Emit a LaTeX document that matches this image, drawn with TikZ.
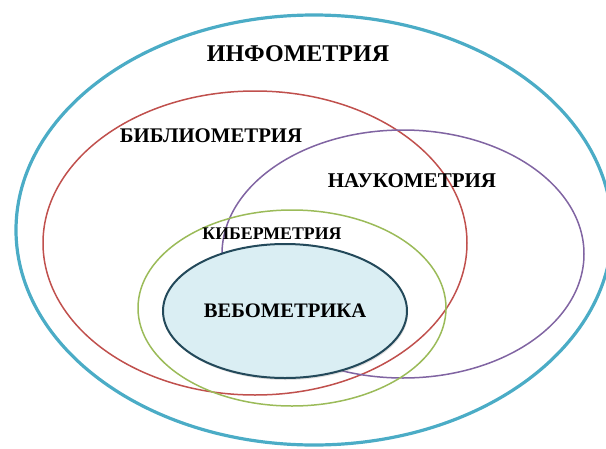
\documentclass[tikz,border=0pt]{standalone}
\usepackage{fontspec}
\setmainfont{Liberation Serif}
\usetikzlibrary{shapes.geometric,shadows}

\definecolor{infoblue}{HTML}{4BACC6}
\definecolor{biblred}{HTML}{C0504D}
\definecolor{scipurple}{HTML}{8064A2}
\definecolor{cybgreen}{HTML}{9BBB59}
\definecolor{webfill}{HTML}{DAEEF3}
\definecolor{webline}{HTML}{23495A}

\tikzset{
  field/.style={ellipse, inner sep=0pt, outer sep=0pt, line width=1.5pt},
  label/.style={font=\bfseries, inner sep=0pt, anchor=base, text=black},
}

\begin{document}
\begin{tikzpicture}[x=1pt, y=-1pt]
  \useasboundingbox (0,0) rectangle (606,448);
  \clip (0,0) rectangle (606,448);

  % outer field
  \node[field, draw=infoblue, line width=3.2pt,
        minimum width=596pt, minimum height=430pt] (info) at (314,230) {};
  % overlapping fields
  \node[field, draw=biblred,
        minimum width=424pt, minimum height=304pt] (bibl) at (255,243) {};
  \node[field, draw=scipurple,
        minimum width=362pt, minimum height=248pt] (sci) at (403,254) {};
  \node[field, draw=cybgreen,
        minimum width=308pt, minimum height=196pt] (cyb) at (292,308) {};
  % innermost field, filled
  \node[field, draw=webline, fill=webfill, line width=2pt,
        drop shadow={opacity=0.25, shadow xshift=1pt, shadow yshift=-2pt},
        minimum width=244pt, minimum height=134pt] (web) at (285,311) {};

  % names of the fields
  \node[label, font=\bfseries\fontsize{24}{24}\selectfont] (tinfo) at (298,61) {ИНФОМЕТРИЯ};
  \node[label, font=\bfseries\fontsize{20.8}{20.8}\selectfont] (tbibl) at (211,142) {БИБЛИОМЕТРИЯ};
  \node[label, font=\bfseries\fontsize{21}{21}\selectfont] (tsci) at (412,187) {НАУКОМЕТРИЯ};
  \node[label, font=\bfseries\fontsize{17.8}{17.8}\selectfont] (tcyb) at (272,239) {КИБЕРМЕТРИЯ};
  \node[label, font=\bfseries\fontsize{20.6}{20.6}\selectfont] (tweb) at (285,317) {ВЕБОМЕТРИКА};
\end{tikzpicture}
\end{document}
